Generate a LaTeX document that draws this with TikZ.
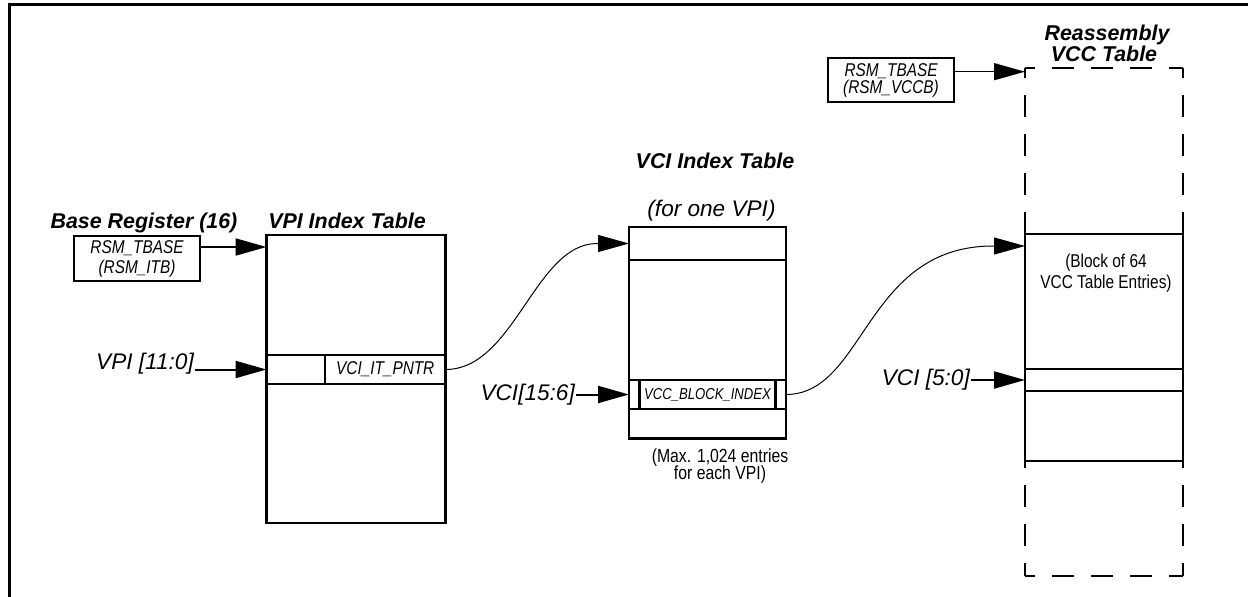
\documentclass[tikz,border=0pt]{standalone}
\usepackage{fontspec}
\setmainfont{Liberation Sans}
\newfontfamily\narrowfont{Liberation Sans}[FakeStretch=0.83]
\usetikzlibrary{arrows.meta}
\lineskiplimit=-100pt

\begin{document}
\begin{tikzpicture}[x=1pt,y=-1pt,
  tbl/.style={draw, line width=2.2pt, rectangle, inner sep=0pt, outer sep=0pt, anchor=north west},
  cell/.style={draw, line width=2.2pt, rectangle, inner sep=0pt, outer sep=0pt,
    font=\narrowfont\itshape\fontsize{18.5}{20}\selectfont},
  regbox/.style={draw, line width=2pt, rectangle, inner sep=0pt, outer sep=0pt, align=center,
    font=\narrowfont\itshape\fontsize{18.5}{20}\selectfont},
  ttl/.style={font=\bfseries\itshape\fontsize{21.4}{24}\selectfont, inner sep=0pt, anchor=base},
  biglab/.style={font=\itshape\fontsize{22.6}{26}\selectfont, inner sep=1pt},
  note/.style={font=\narrowfont\fontsize{19}{17}\selectfont, align=center, inner sep=0pt},
  arr/.style={-{Triangle[length=31pt,width=17pt]}, line width=2pt},
  carr/.style={-{Triangle[length=31pt,width=17pt]}, line width=1pt},
  dashside/.style={line width=2.2pt, dash pattern=on 22pt off 17pt, dash phase=12pt}]

\useasboundingbox (0,0) rectangle (1248,597);

% outer frame
\draw[line width=3pt] (9,597) -- (9,4) -- (1248,4);

% ---- base register and VPI index table ----
\node[regbox, minimum width=126pt, minimum height=45pt] (itb) at (137,258.5) {RSM\_TBASE\\(RSM\_ITB)};
\node[ttl] (basettl) at (144,228) {Base Register (16)};
\node[ttl] (vpittl) at (347,228) {VPI Index Table};

\node[tbl, minimum width=179pt, minimum height=288pt] (vpi) at (266.5,235) {};
\node[tbl, minimum width=179pt, minimum height=29pt] (vrow) at (266.5,355) {};
\node[cell, anchor=north east, minimum width=120.5pt, minimum height=29pt] (ptr) at (vrow.north east) {VCI\_IT\_PNTR};

\draw[arr] ([yshift=11.5pt]itb.east) -- ([yshift=11.5pt]itb.east -| vpi.west);

\node[biglab, anchor=base east] (vpilab) at (195,369.5) {VPI [11:0]};
\draw[arr] (vpilab.base east) -- (vrow.west);

% ---- VCI index table ----
\node[ttl] (vcittl) at (715,168.3) {VCI Index Table};
\node[biglab, inner sep=0pt, anchor=base] (onevpi) at (711.5,216.5) {(for one VPI)};

\node[tbl, minimum width=157pt, minimum height=211.5pt] (vci) at (629,227) {};
\node[tbl, minimum width=157pt, minimum height=33pt] (vtop) at (629,227) {};
\node[tbl, minimum width=157pt, minimum height=29pt] (vidx) at (629,380) {};
\node[cell, anchor=center, minimum width=136pt, minimum height=29pt,
  font=\narrowfont\itshape\fontsize{15.8}{18}\selectfont] (blk) at (vidx.center) {VCC\_BLOCK\_INDEX};

\node[biglab, anchor=east] (vcilab) at (576,394.5) {VCI[15:6]};
\draw[arr] (vcilab.east) -- (vidx.west);

\node[note, anchor=north] (maxnote) at (720,448.5) {(Max. 1,024 entries\\for each VPI)};

% ---- reassembly VCC table ----
\node[ttl] (rttl1) at (1107,40) {Reassembly};
\node[ttl] (rttl2) at (1104,61.5) {VCC Table};

\node[inner sep=0pt, outer sep=0pt, anchor=north west, minimum width=158pt, minimum height=508pt] (rvcc) at (1025,68) {};
\draw[dashside] (rvcc.north west) -- (rvcc.north east);
\draw[dashside] (rvcc.north west) -- (rvcc.south west);
\draw[dashside] (rvcc.north east) -- (rvcc.south east);
\draw[dashside] (rvcc.south west) -- (rvcc.south east);

\node[tbl, minimum width=158pt, minimum height=227pt] (rblk) at (1025,234) {};
\node[tbl, minimum width=158pt, minimum height=22pt] (rrow) at (1025,369) {};
\node[note, font=\narrowfont\fontsize{18.6}{20.5}\selectfont] (blknote) at (1106,273) {(Block of 64\\VCC Table Entries)};

\node[regbox, minimum width=126pt, minimum height=43.5pt,
  font=\narrowfont\itshape\fontsize{18.5}{17}\selectfont] (vccb) at (891,80) {RSM\_TBASE\\(RSM\_VCCB)};
\draw[arr, line width=1.3pt] ([yshift=8.3pt]vccb.east) -- ([yshift=8.3pt]vccb.east -| rvcc.west);

\node[biglab, anchor=east] (vcc50) at (971,380) {VCI [5:0]};
\draw[arr] (vcc50.east) -- (rrow.west);

% ---- pointer curves ----
\draw[carr] (ptr.east) .. controls +(69,0) and +(-62,0) .. ([xshift=-32pt]vtop.west) -- (vtop.west);
\draw[carr] (vidx.east) .. controls +(79,0) and +(-128,0) .. ([shift={(-32pt,-12pt)}]rblk.north west) -- ([yshift=-12pt]rblk.north west);

\end{tikzpicture}
\end{document}
